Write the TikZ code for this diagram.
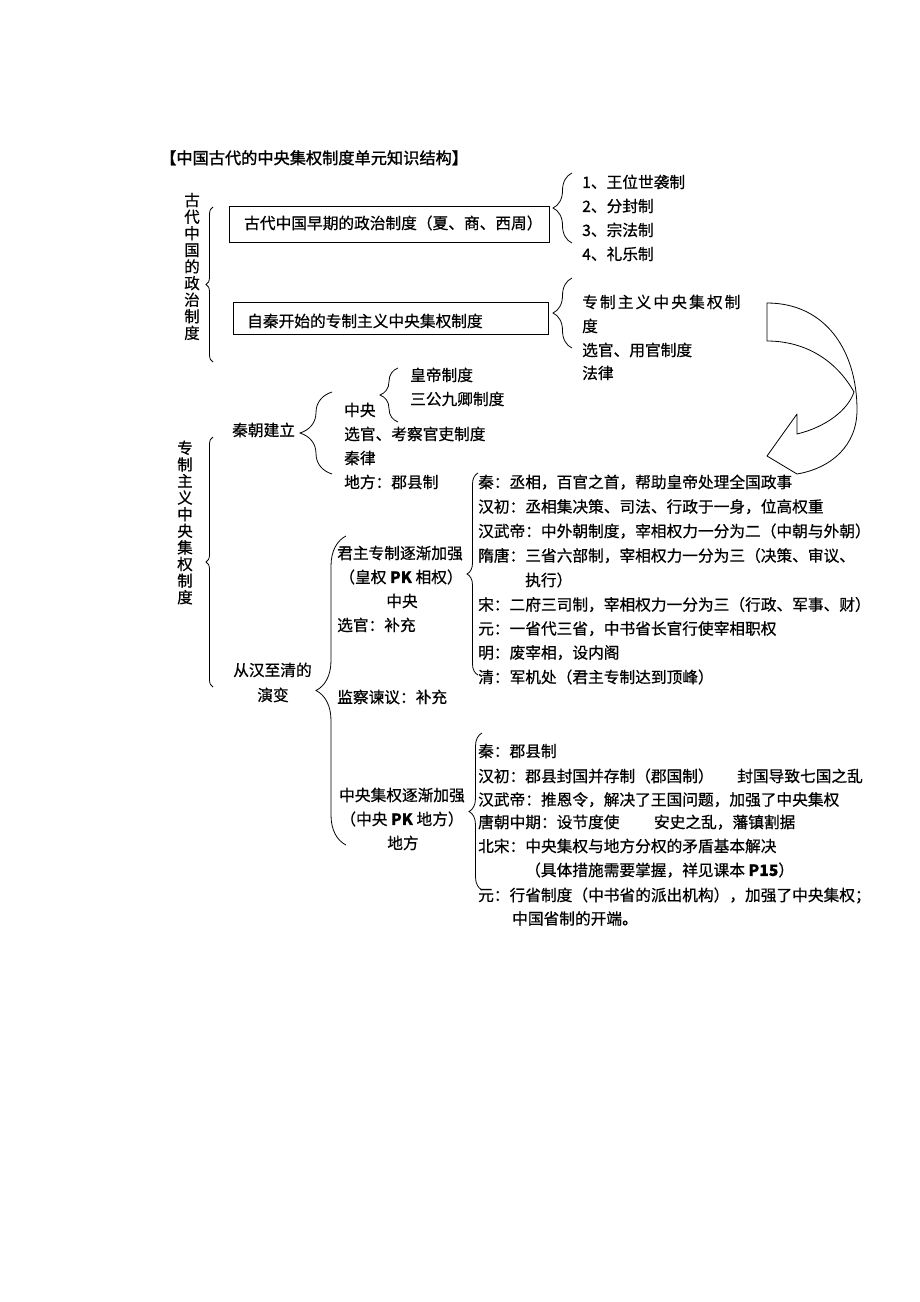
\documentclass[tikz,border=0pt]{standalone}
\usepackage{fontspec}
\setmainfont{Noto Sans CJK SC}[FakeBold=0.6]
\usetikzlibrary{decorations.pathreplacing}
\newcommand\myfs{\fontsize{15.7}{18}\selectfont}
\newcommand\myvfs{\fontsize{15.5}{16.6}\selectfont}
\newcommand\mytfs{\fontsize{16.2}{18}\selectfont\addfontfeature{FakeBold=1.4}}
\tikzset{
  txt/.style={inner sep=0pt, anchor=west, font=\myfs, text height=13.8pt, text depth=1.9pt},
  ctxt/.style={txt, anchor=center},
  vtxt/.style={inner sep=0pt, align=center, font=\myvfs},
  boxr/.style={draw, line width=0.9pt, inner sep=0pt, anchor=north west},
  brc/.style={decorate, decoration={brace, amplitude=#1}, line width=0.8pt},
  arr/.style={line width=0.8pt, line join=round}
}
\begin{document}
\begin{tikzpicture}[x=1pt,y=-1pt]
\useasboundingbox[fill=white] (0,0) rectangle (920,1302);

% title
\node[txt, font=\mytfs] (title) at (160,158) {【中国古代的中央集权制度单元知识结构】};

% ---------- part 1 ----------
\node[vtxt] (v1) at (192,266.5) {古\\代\\中\\国\\的\\政\\治\\制\\度};
\draw[brc=7] (213,362) -- (213,207);

\node[boxr, minimum width=320pt, minimum height=36pt] (b1) at (229,206) {};
\node[txt] (b1t) at (244,223) {古代中国早期的政治制度（夏、商、西周）};
\node[boxr, minimum width=315pt, minimum height=32pt] (b2) at (233,302) {};
\node[txt] (b2t) at (247,321) {自秦开始的专制主义中央集权制度};

\draw[brc=19] (572,243) -- (572,173);
\node[txt] (l1a) at (582,182) {1、王位世袭制};
\node[txt] (l1b) at (582,206) {2、分封制};
\node[txt] (l1c) at (582,230) {3、宗法制};
\node[txt] (l1d) at (582,254) {4、礼乐制};

\draw[brc=19] (572,348) -- (572,278);
\node[txt] (l2a) at (582,302) {\addfontfeature{LetterSpace=13.5}专制主义中央集权制};
\node[txt] (l2b) at (582,326) {度};
\node[txt] (l2c) at (582,350) {选官、用官制度};
\node[txt] (l2d) at (582,373) {法律};

% curved block arrow
\draw[arr] (767,303) .. controls (825,303) and (857,350) .. (857,410)
  .. controls (857,445) and (832,468) .. (797,474)
  -- (767,456) -- (797,414) -- (797,434)
  .. controls (826,427) and (848,410) .. (854,392)
  .. controls (836,360) and (805,341) .. (767,341) -- cycle;

% ---------- part 2 ----------
\node[vtxt] (v2) at (185,522.5) {专\\制\\主\\义\\中\\央\\集\\权\\制\\度};
\draw[brc=7] (213,687) -- (213,437);

\node[txt] (qin) at (232,430) {秦朝建立};
\draw[brc=32] (332,474) -- (332,392);
\node[txt] (q1) at (344,410) {中央};
\node[txt] (q2) at (344,434) {选官、考察官吏制度};
\node[txt] (q3) at (344,458) {秦律};
\node[txt] (q4) at (344,482) {地方：郡县制};
\draw[brc=18] (398,422) -- (398,368);
\node[txt] (q1a) at (410,375) {皇帝制度};
\node[txt] (q1b) at (410,399) {三公九卿制度};

\node[txt] (hq1) at (233,670) {从汉至清的};
\node[ctxt] (hq2) at (273,695) {演变};
\draw[brc=30] (346,845) -- (346,536);

\node[txt] (j1) at (337,553) {君主专制逐渐加强};
\node[ctxt] (j2) at (401,577) {（皇权 \textbf{PK} 相权）};
\node[ctxt] (j3) at (402,601) {中央};
\node[txt] (j4) at (337,625) {选官：补充};
\node[txt] (jc) at (337,697) {监察谏议：补充};
\node[txt] (z1) at (339,795) {中央集权逐渐加强};
\node[ctxt] (z2) at (402,819) {（中央 \textbf{PK} 地方）};
\node[ctxt] (z3) at (403,843) {地方};

% list: 君主专制
\draw[brc=11] (478,675) -- (478,473);
\node[txt] (r1) at (478,482) {秦：丞相，百官之首，帮助皇帝处理全国政事};
\node[txt] (r2) at (478,506.5) {汉初：丞相集决策、司法、行政于一身，位高权重};
\node[txt] (r3) at (478,531) {汉武帝：中外朝制度，宰相权力一分为二（中朝与外朝）};
\node[txt] (r4) at (478,555.5) {隋唐：三省六部制，宰相权力一分为三（决策、审议、};
\node[txt] (r5) at (525,580) {执行）};
\node[txt] (r6) at (478,604.5) {宋：二府三司制，宰相权力一分为三（行政、军事、财）};
\node[txt] (r7) at (478,628.5) {元：一省代三省，中书省长官行使宰相职权};
\node[txt] (r8) at (478,652.5) {明：废宰相，设内阁};
\node[txt] (r9) at (478,677) {清：军机处（君主专制达到顶峰）};

% list: 中央集权
\draw[brc=13] (482,890) -- (482,733);
\node[txt] (s1) at (478,751) {秦：郡县制};
\node[txt] (s2) at (478,776) {汉初：郡县封国并存制（郡国制）\hspace{1.5em}封国导致七国之乱};
\node[txt] (s3) at (478,799.5) {汉武帝：推恩令，解决了王国问题，加强了中央集权};
\node[txt] (s4) at (478,822) {唐朝中期：设节度使\hspace{2.2em}安史之乱，藩镇割据};
\node[txt] (s5) at (478,846) {北宋：中央集权与地方分权的矛盾基本解决};
\node[txt] (s6) at (525,870) {（具体措施需要掌握，祥见课本 \textbf{P15}）};
\node[txt] (s7) at (478,895) {元：行省制度（中书省的派出机构），加强了中央集权；};
\node[txt] (s8) at (512,918.5) {中国省制的开端。};
\end{tikzpicture}
\end{document}
